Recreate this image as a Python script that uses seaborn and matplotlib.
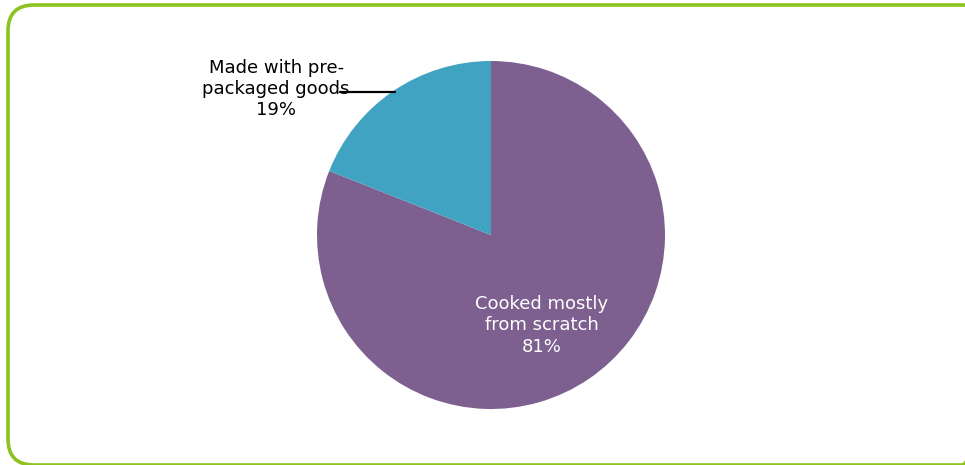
import matplotlib
matplotlib.use("Agg")
import matplotlib.pyplot as plt
import seaborn as sns
from matplotlib.patches import FancyBboxPatch

LABELS = ["Cooked mostly\nfrom scratch", "Made with pre-\npackaged goods"]
SHARES = [81, 19]
COLORS = ["#7D608F", "#40A3C2"]
BORDER = "#8DC21F"

W, H = 965, 465


def main() -> None:
    sns.set_style("white")
    plt.rcParams["font.family"] = ["DejaVu Sans"]

    fig = plt.figure(figsize=(W / 100, H / 100), dpi=100)
    fig.patch.set_facecolor("white")

    # rounded green frame in pixel units, right side runs off the canvas
    bg = fig.add_axes([0, 0, 1, 1])
    bg.set_xlim(0, W)
    bg.set_ylim(H, 0)
    bg.axis("off")
    bg.add_patch(FancyBboxPatch(
        (8, 5), 988 - 8, 465 - 5,
        boxstyle="round,pad=0,rounding_size=26",
        facecolor="none", edgecolor=BORDER, linewidth=2.6, clip_on=False,
    ))

    cx, cy, r = 491, 235, 174
    ax = fig.add_axes([(cx - r) / W, (H - cy - r) / H, 2 * r / W, 2 * r / H])
    ax.pie(
        SHARES, colors=COLORS, startangle=90, counterclock=False,
        radius=1, wedgeprops={"linewidth": 0},
    )
    ax.set_xlim(-1, 1)
    ax.set_ylim(-1, 1)
    ax.set_aspect("equal")
    ax.axis("off")

    ax.text(0.29, -0.52, f"{LABELS[0]}\n{SHARES[0]}%", ha="center", va="center",
            color="white", fontsize=13, linespacing=1.22)
    ax.text(-1.235, 0.84, f"{LABELS[1]}\n{SHARES[1]}%", ha="center", va="center",
            color="black", fontsize=13, linespacing=1.22)
    ax.plot([-0.87, -0.552], [0.823, 0.823], color="black", linewidth=1.6, clip_on=False)

    fig.savefig("out.png", dpi=100)
    plt.close(fig)


if __name__ == "__main__":
    main()
